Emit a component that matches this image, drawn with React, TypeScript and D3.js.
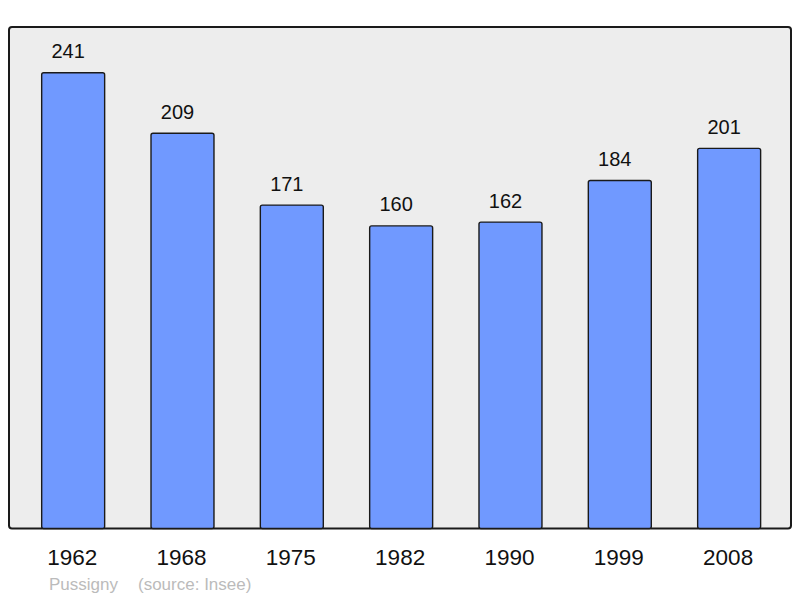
import * as d3 from 'd3'

const years = ['1962', '1968', '1975', '1982', '1990', '1999', '2008']
const population = [241, 209, 171, 160, 162, 184, 201]
const town = 'Pussigny'
const source = '(source: Insee)'

const WIDTH = 800
const HEIGHT = 598
const FRAME = { LEFT: 9, TOP: 27, RIGHT: 791, BOTTOM: 528.5 }
const FONT = '"Liberation Sans", Arial, sans-serif'

const x = d3.scaleBand()
  .domain(years)
  .range([18.5, 783.8])
  .paddingInner(0.424)
  .paddingOuter(0.212)

const y = d3.scaleLinear()
  .domain([0, 241])
  .range([FRAME.BOTTOM, 72.7])

export default function App() {
  return (
    <svg width={WIDTH} height={HEIGHT} style={{ position: 'absolute', left: 0, top: 0 }}>
      <rect
        x={FRAME.LEFT}
        y={FRAME.TOP}
        width={FRAME.RIGHT - FRAME.LEFT}
        height={FRAME.BOTTOM - FRAME.TOP}
        rx={3}
        fill="#ededed"
        stroke="#1a1a1a"
        strokeWidth={2}
      />
      {years.map((year, i) => (
        <g key={year}>
          <rect
            x={x(year)}
            y={y(population[i])}
            width={x.bandwidth()}
            height={y(0) - y(population[i])}
            rx={2}
            fill="#7099ff"
            stroke="#1a1a1a"
            strokeWidth={1.4}
          />
          <text
            x={x(year)! + x.bandwidth() / 2 - 5}
            y={y(population[i]) - 14.5}
            textAnchor="middle"
            fontFamily={FONT}
            fontSize={20}
            fill="#111"
          >
            {population[i]}
          </text>
          <text
            x={x(year)! + x.bandwidth() / 2 - 1}
            y={565}
            textAnchor="middle"
            fontFamily={FONT}
            fontSize={22.5}
            fill="#111"
          >
            {year}
          </text>
        </g>
      ))}
      <text x={49} y={590} fontFamily={FONT} fontSize={17} fill="#bbbbbb">
        {town}
      </text>
      <text x={138} y={590} fontFamily={FONT} fontSize={17} fill="#bbbbbb">
        {source}
      </text>
    </svg>
  )
}
